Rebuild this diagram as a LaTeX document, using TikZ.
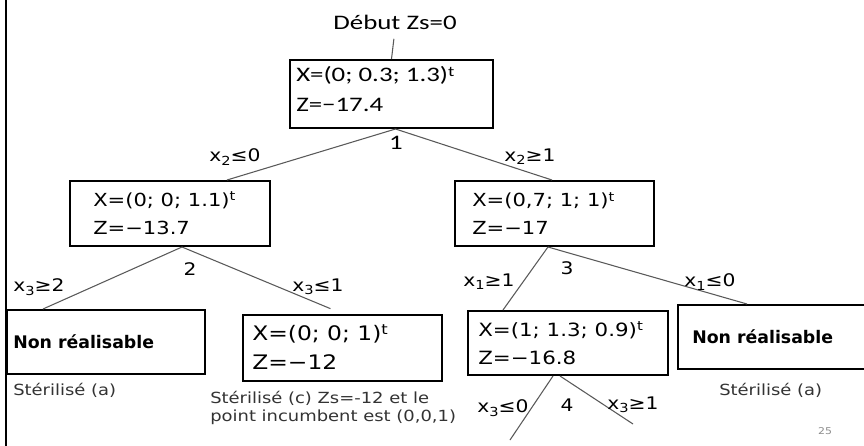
\documentclass[tikz,border=0pt]{standalone}
\usepackage{fontspec}
\setmainfont{DejaVu Sans}
\newfontfamily\cfont[FakeStretch=1.3]{Carlito}
\newfontfamily\dfont[FakeStretch=1.17]{DejaVu Sans}
\newfontfamily\bfontfam{DejaVu Sans}
\newcommand\mysup[1]{\raisebox{0.55ex}{\scalebox{0.7}{#1}}}
\newcommand\mysub[1]{\raisebox{-0.35ex}{\scalebox{0.72}{#1}}}
\begin{document}
\begin{tikzpicture}[x=0.75pt,y=-0.75pt,
  box/.style={draw=black, line width=1.5pt, rectangle, inner sep=0pt},
  conn/.style={draw=black!65, line width=0.8pt},
  txt/.style={inner sep=0pt, align=left, anchor=west},
  lbl/.style={inner sep=0pt, font=\dfont\fontsize{13}{15}\selectfont},
  note/.style={inner sep=0pt, align=left, anchor=west, text=black!80, font=\dfont\fontsize{11.5}{13}\selectfont}]
\useasboundingbox (0,0) rectangle (864,446);
% page border on the left
\draw[line width=2pt] (6,-2) -- (6,448);

% title
\node[inner sep=0pt, font=\cfont\fontsize{15.5}{18}\selectfont] (title) at (395,22) {Début Zs=0};

% boxes
\node[box, minimum width=152.25pt, minimum height=51pt] (root) at (391.5,94) {};
\node[box, minimum width=150pt, minimum height=48.75pt] (lc) at (170,213.5) {};
\node[box, minimum width=149.25pt, minimum height=48.75pt] (rc) at (554.5,213.5) {};
\node[box, minimum width=148.5pt, minimum height=48pt] (nr1) at (106,342) {};
\node[box, minimum width=149.25pt, minimum height=49.5pt] (b3) at (342.5,348) {};
\node[box, minimum width=150pt, minimum height=48pt] (b4) at (568,343) {};
\node[box, minimum width=142.5pt, minimum height=48pt] (nr2) at (773,337) {};

% box texts
\node[txt, font=\cfont\fontsize{15.5}{22.5}\selectfont] (roottxt) at (296,89) {X=(0; 0.3; 1.3)\mysup{t}\\Z=−17.4};
\node[txt, font=\dfont\fontsize{13.5}{21}\selectfont] (lctxt) at (93,213) {X=(0; 0; 1.1)\mysup{t}\\Z=−13.7};
\node[txt, font=\dfont\fontsize{13.5}{20.5}\selectfont] (rctxt) at (472,213.5) {X=(0,7; 1; 1)\mysup{t}\\Z=−17};
\node[txt, font=\bfontfam\bfseries\fontsize{13}{15}\selectfont] (nr1txt) at (13,342) {Non réalisable};
\node[txt, font=\dfont\fontsize{15}{21.75}\selectfont] (b3txt) at (252,347.5) {X=(0; 0; 1)\mysup{t}\\Z=−12};
\node[txt, font=\dfont\fontsize{13.7}{21}\selectfont] (b4txt) at (478,343) {X=(1; 1.3; 0.9)\mysup{t}\\Z=−16.8};
\node[txt, font=\bfontfam\bfseries\fontsize{13}{15}\selectfont] (nr2txt) at (692,337) {Non réalisable};

% notes
\node[note] (s1) at (13,390) {Stérilisé (a)};
\node[note] (s2) at (210,408) {Stérilisé (c) Zs=-12 et le\\point incumbent est (0,0,1)};
\node[note] (s3) at (719,390) {Stérilisé (a)};
\node[inner sep=0pt, text=black!45, font=\dfont\fontsize{7}{8}\selectfont] (pg) at (825,431) {25};

% connectors
\coordinate (b3top) at ([xshift=-9pt,yshift=4pt]b3.north);
\coordinate (e1) at (510,440);
\coordinate (e2) at (633,424);
\draw[conn, shorten <=7pt] (title.south) -- (root.north);
\draw[conn] ([xshift=3pt]root.south) -- ([xshift=42.75pt]lc.north);
\draw[conn] ([xshift=3pt]root.south) -- ([xshift=-1.9pt]rc.north);
\draw[conn] ([xshift=9pt]lc.south) -- ([xshift=-47.25pt]nr1.north);
\draw[conn] ([xshift=9pt]lc.south) -- (b3top);
\draw[conn] ([xshift=-4.9pt]rc.south) -- ([xshift=-48.75pt]b4.north);
\draw[conn] ([xshift=-4.9pt]rc.south) -- ([xshift=-19.5pt]nr2.north);
\draw[conn] ([xshift=-11.25pt]b4.south) -- (e1);
\draw[conn] ([xshift=-6pt]b4.south) -- (e2);

% labels
\node[inner sep=0pt, font=\cfont\fontsize{15.5}{18}\selectfont] (l1) at (396,143) {1};
\node[lbl] (x2a) at (235,157) {x\mysub{2}≤0};
\node[lbl] (x2b) at (530,157) {x\mysub{2}≥1};
\node[lbl] (l2) at (190,269) {2};
\node[lbl] (x3a) at (39,287) {x\mysub{3}≥2};
\node[lbl] (x3b) at (318,287) {x\mysub{3}≤1};
\node[lbl] (l3) at (567,268) {3};
\node[lbl] (x1a) at (489,282) {x\mysub{1}≥1};
\node[lbl] (x1b) at (710,282) {x\mysub{1}≤0};
\node[lbl] (l4) at (567,405) {4};
\node[lbl] (x3c) at (503,408) {x\mysub{3}≤0};
\node[lbl] (x3d) at (633,405) {x\mysub{3}≥1};
\end{tikzpicture}
\end{document}
